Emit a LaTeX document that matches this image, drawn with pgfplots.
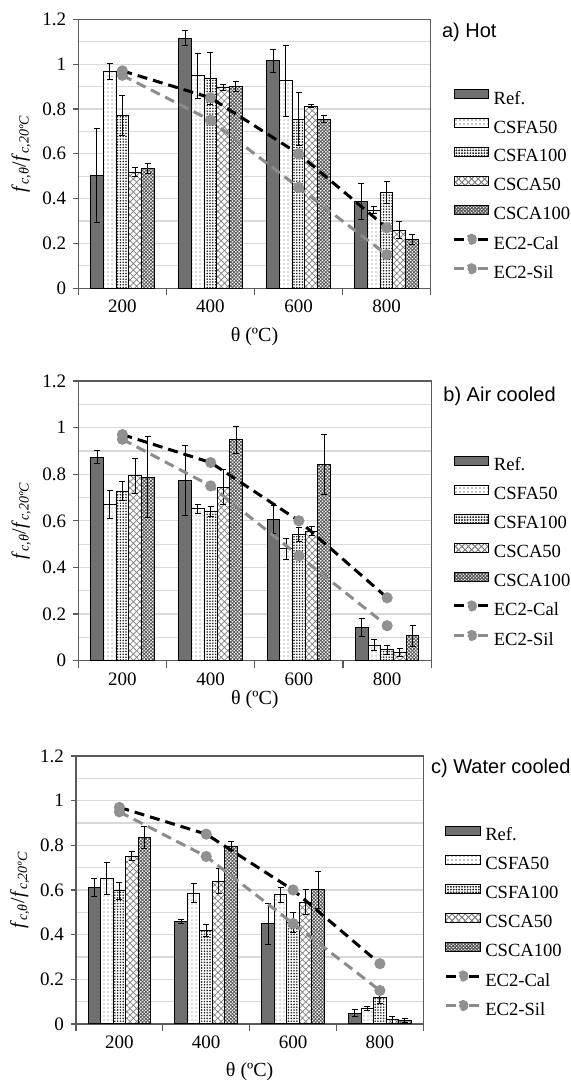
\documentclass[border=0pt]{standalone}
\usepackage{fontspec}
\setmainfont{Liberation Serif}
\newfontfamily\sansfont{Liberation Sans}
\usepackage{pgfplots}
\pgfplotsset{compat=1.18}
\usepackage{pgfplotstable}
\usetikzlibrary{patterns.meta}

\definecolor{refgray}{RGB}{112,112,112}
\definecolor{framegray}{RGB}{90,90,90}
\definecolor{gridgray}{RGB}{217,217,217}
\definecolor{markgray}{RGB}{145,145,145}
\definecolor{silgray}{RGB}{140,140,140}

\tikzset{
 sref/.style={draw=black, line width=0.5pt, fill=refgray},
 sfa50/.style={draw=black, line width=0.5pt, fill=white, postaction={pattern color=black!55, pattern={Dots[distance=2pt, radius=0.3pt]}}},
 sfa100/.style={draw=black, line width=0.5pt, fill=white, postaction={pattern color=black!85, pattern={Dots[distance=1.4pt, radius=0.45pt]}}},
 sca50/.style={draw=black, line width=0.5pt, fill=white, postaction={pattern color=black!50, pattern={Hatch[distance=2.3pt, angle=45, line width=0.35pt]}}},
 sca100/.style={draw=black, line width=0.5pt, fill=white, postaction={pattern color=black!65, pattern={Hatch[distance=1.2pt, angle=45, line width=0.4pt]}}},
 scal/.style={black, line width=1.5pt, dash pattern=on 5pt off 3pt},
 ssil/.style={silgray, line width=1.5pt, dash pattern=on 5pt off 3pt},
}

\pgfplotsset{
 barleg/.style={legend image code/.code={\draw[#1] (0pt,0.2pt) rectangle (17.3pt,4.7pt);}},
 lineleg/.style={legend image code/.code={\draw[#1, line width=1.5pt] (0pt,2.5pt) -- (5.5pt,2.5pt) (11.8pt,2.5pt) -- (17.3pt,2.5pt); \fill[markgray] (8.65pt,2.5pt) circle (2pt);}},
 eb/.style={error bars/y dir=both, error bars/y explicit,
   error bars/error bar style={black, line width=0.5pt},
   error bars/error mark options={rotate=90, black, mark size=1.5pt, line width=0.5pt}},
 panel/.style={
  scale only axis, anchor=south west,
  xmin=100, xmax=900, ymin=0, ymax=1.2,
  xtick={200,400,600,800},
  extra x ticks={100,300,500,700,900}, extra x tick labels={},
  xtick style={draw=none},
  extra x tick style={xtick style={draw=framegray, line width=0.6pt}, major tick length=3.5pt},
  ytick={0,0.2,0.4,0.6,0.8,1,1.2},
  minor ytick={0.1,0.3,0.5,0.7,0.9,1.1},
  ymajorgrids, yminorgrids,
  major grid style={gridgray, line width=0.6pt},
  minor grid style={gridgray, line width=0.6pt},
  tick align=outside, major tick length=2.5pt, minor tick length=0pt,
  xtick pos=bottom, ytick pos=left,
  ytick style={draw=framegray, line width=0.6pt},
  axis line style={framegray, line width=0.7pt},
  tick label style={font=\fontsize{9.5}{11}\selectfont},
  /pgf/number format/assume math mode=true,
  label style={font=\fontsize{9.5}{11}\selectfont},
  xlabel={θ (ºC)},
  ylabel={\textit{f}\textsubscript{\textit{c,θ}}/\textit{f}\textsubscript{\textit{c,20ºC}}},
  every axis y label/.style={at={(axis description cs:-0.162,0.5)}, rotate=90, anchor=center},
  every axis x label/.style={at={(axis description cs:0.5,0)}, anchor=center},
  legend cell align=left,
  legend style={anchor=north west, draw=none, fill=none, inner sep=0pt, outer sep=0pt,
    row sep=5pt, column sep=1.7pt,
    nodes={inner sep=0pt, text height=7pt, text depth=2pt, font=\fontsize{9.3}{11}\selectfont}},
 },
}

\pgfplotstableread{
x   ref   refe  fa50  fa50e fa100 fa100e ca50  ca50e ca100 ca100e
200 0.505 0.21  0.967 0.035 0.770 0.090  0.517 0.020 0.535 0.022
400 1.115 0.033 0.947 0.100 0.935 0.115  0.897 0.014 0.900 0.022
600 1.014 0.052 0.925 0.160 0.755 0.117  0.813 0.008 0.754 0.015
800 0.386 0.080 0.349 0.015 0.426 0.050  0.260 0.040 0.218 0.022
}\dataA

\pgfplotstableread{
x   ref   refe  fa50  fa50e fa100 fa100e ca50  ca50e ca100 ca100e
200 0.873 0.027 0.672 0.060 0.728 0.040  0.793 0.074 0.788 0.175
400 0.775 0.150 0.652 0.020 0.640 0.022  0.744 0.075 0.947 0.057
600 0.604 0.060 0.480 0.046 0.540 0.030  0.555 0.020 0.841 0.130
800 0.142 0.040 0.066 0.023 0.046 0.020  0.034 0.018 0.106 0.043
}\dataB

\pgfplotstableread{
x   ref   refe  fa50  fa50e fa100 fa100e ca50  ca50e ca100 ca100e
200 0.612 0.040 0.651 0.072 0.596 0.037  0.752 0.020 0.836 0.050
400 0.460 0.010 0.585 0.042 0.418 0.028  0.640 0.056 0.797 0.020
600 0.448 0.090 0.579 0.033 0.454 0.046  0.545 0.055 0.600 0.082
800 0.048 0.015 0.070 0.010 0.118 0.028  0.018 0.015 0.015 0.010
}\dataC

\newcommand{\bars}[1]{%
 \addplot[ybar, bar width=28.8, bar shift=0, sref, barleg=sref, eb] table[x expr=\thisrow{x}-57.6, y=ref, y error=refe] {#1};
 \addplot[ybar, bar width=28.8, bar shift=0, sfa50, barleg=sfa50, eb] table[x expr=\thisrow{x}-28.8, y=fa50, y error=fa50e] {#1};
 \addplot[ybar, bar width=28.8, bar shift=0, sfa100, barleg=sfa100, eb] table[x=x, y=fa100, y error=fa100e] {#1};
 \addplot[ybar, bar width=28.8, bar shift=0, sca50, barleg=sca50, eb] table[x expr=\thisrow{x}+28.8, y=ca50, y error=ca50e] {#1};
 \addplot[ybar, bar width=28.8, bar shift=0, sca100, barleg=sca100, eb] table[x expr=\thisrow{x}+57.6, y=ca100, y error=ca100e] {#1};
 \addplot[scal, mark=*, mark size=2pt, mark options={solid, fill=markgray, draw=markgray}, lineleg=black] coordinates {(200,0.97) (400,0.85) (600,0.60) (800,0.27)};
 \addplot[ssil, mark=*, mark size=2pt, mark options={solid, fill=markgray, draw=markgray}, lineleg=silgray] coordinates {(200,0.95) (400,0.75) (600,0.45) (800,0.15)};
 \legend{Ref.,CSFA50,CSFA100,CSCA50,CSCA100,EC2-Cal,EC2-Sil}
}

\begin{document}
\begin{tikzpicture}
\path[use as bounding box] (0,0) rectangle (285pt,540pt);

\begin{axis}[panel, at={(39.15pt,395.85pt)}, width=176.2pt, height=134.5pt,
  xlabel style={yshift=-24.2pt},
  legend style={at={(axis description cs:1.0624,0.7398)}}]
\bars{\dataA}
\end{axis}

\begin{axis}[panel, at={(39.15pt,209.65pt)}, width=176.5pt, height=139.85pt,
  xlabel style={yshift=-19.7pt},
  legend style={at={(axis description cs:1.0611,0.7319)}}]
\bars{\dataB}
\end{axis}

\begin{axis}[panel, at={(38pt,28pt)}, width=173.65pt, height=134pt,
  xlabel style={yshift=-23.8pt},
  legend style={at={(axis description cs:1.0605,0.7388)}}]
\bars{\dataC}
\end{axis}

\node[anchor=west, inner sep=0pt, font=\sansfont\fontsize{10}{12}\selectfont] at (220.85pt,523.65pt) {a) Hot};
\node[anchor=west, inner sep=0pt, font=\sansfont\fontsize{10}{12}\selectfont] at (221.5pt,342pt) {b) Air cooled};
\node[anchor=west, inner sep=0pt, font=\sansfont\fontsize{10}{12}\selectfont] at (215.35pt,156pt) {c) Water cooled};
\end{tikzpicture}
\end{document}
